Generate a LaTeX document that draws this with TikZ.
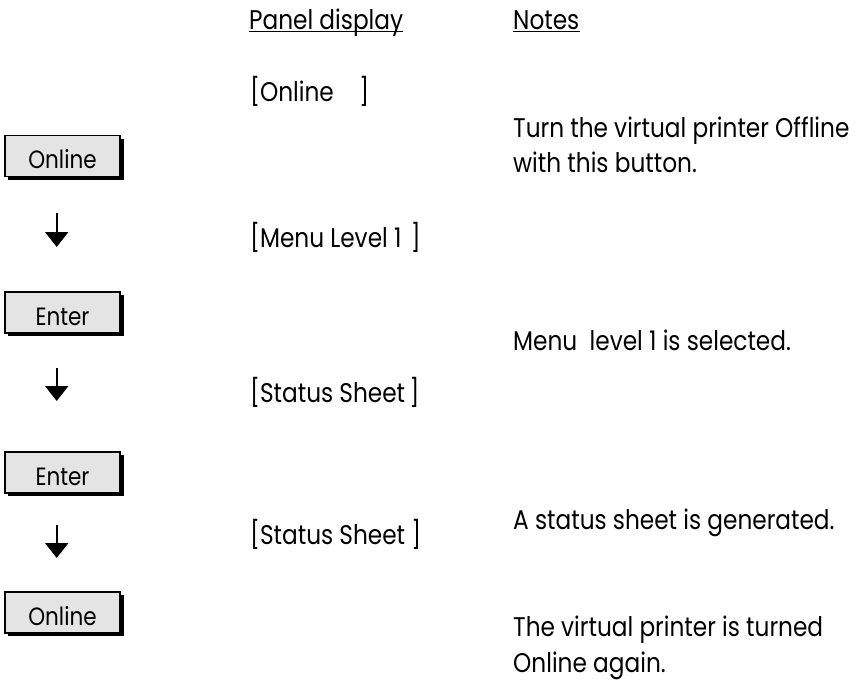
\documentclass[tikz,border=0pt]{standalone}
\usepackage{fontspec}
\setmainfont[FakeStretch=0.86]{Poppins}
\usetikzlibrary{arrows.meta}
\definecolor{keygray}{HTML}{E4E4E4}
\tikzset{
  txt/.style={anchor=base west, inner sep=0pt, font=\fontsize{27}{32}\selectfont},
  keylabel/.style={anchor=base, inner sep=0pt, font=\fontsize{25}{30}\selectfont},
  keybox/.style={draw=black, line width=1.3pt, fill=keygray},
  keyshadow/.style={fill=black},
  downarrow/.style={line width=2pt, -{Triangle[width=23pt,length=15pt]}},
  headline/.style={line width=1.2pt}
}
% draws a panel key with its drop shadow; #1 name, #2 top edge y, #3 label
\newcommand\panelkey[3]{%
  \fill[keyshadow] (8,#2+3) rectangle (124,#2+44);
  \draw[keybox] (5,#2) rectangle (120,#2+41);
  \node[keylabel] (#1) at (62.5,#2+33) {#3};
}
\begin{document}
\begin{tikzpicture}[x=1pt,y=-1pt]
  \useasboundingbox (0,0) rectangle (859,681);

  % column headings, underlined
  \node[txt] (hpanel) at (249,29.5) {Panel display};
  \node[txt] (hnotes) at (513,29.5) {Notes};
  \draw[headline] ([yshift=-2.3pt]hpanel.base west) -- ([yshift=-2.3pt]hpanel.base east);
  \draw[headline] ([yshift=-2.3pt]hnotes.base west) -- ([yshift=-2.3pt]hnotes.base east);

  % keys pressed, top to bottom
  \panelkey{k1}{135.5}{Online}
  \panelkey{k2}{292}{Enter}
  \panelkey{k3}{452}{Enter}
  \panelkey{k4}{592}{Online}

  % arrows between the keys
  \coordinate (a1s) at (56.7,213);  \coordinate (a1e) at (56.7,247);
  \coordinate (a2s) at (56.7,368);  \coordinate (a2e) at (56.7,401);
  \coordinate (a3s) at (56.7,525);  \coordinate (a3e) at (56.7,558);
  \draw[downarrow] (a1s) -- (a1e);
  \draw[downarrow] (a2s) -- (a2e);
  \draw[downarrow] (a3s) -- (a3e);

  % panel display column
  \node[txt] (d1) at (250,101) {[Online\hspace{0.95em}]};
  \node[txt] (d2) at (250,247) {[Menu Level 1\hspace{0.35em}]};
  \node[txt] (d3) at (250,402.6) {[Status Sheet\,]};
  \node[txt] (d4) at (250,544) {[Status Sheet ]};

  % notes column
  \node[txt] (n1a) at (513,137) {Turn the virtual printer Offline};
  \node[txt] (n1b) at (513,172.3) {with this button.};
  \node[txt] (n2) at (513,350.6) {Menu\ \ level 1 is selected.};
  \node[txt] (n3) at (513,529) {A status sheet is generated.};
  \node[txt] (n4a) at (513,636) {The virtual printer is turned};
  \node[txt] (n4b) at (513,672) {Online again.};
\end{tikzpicture}
\end{document}
